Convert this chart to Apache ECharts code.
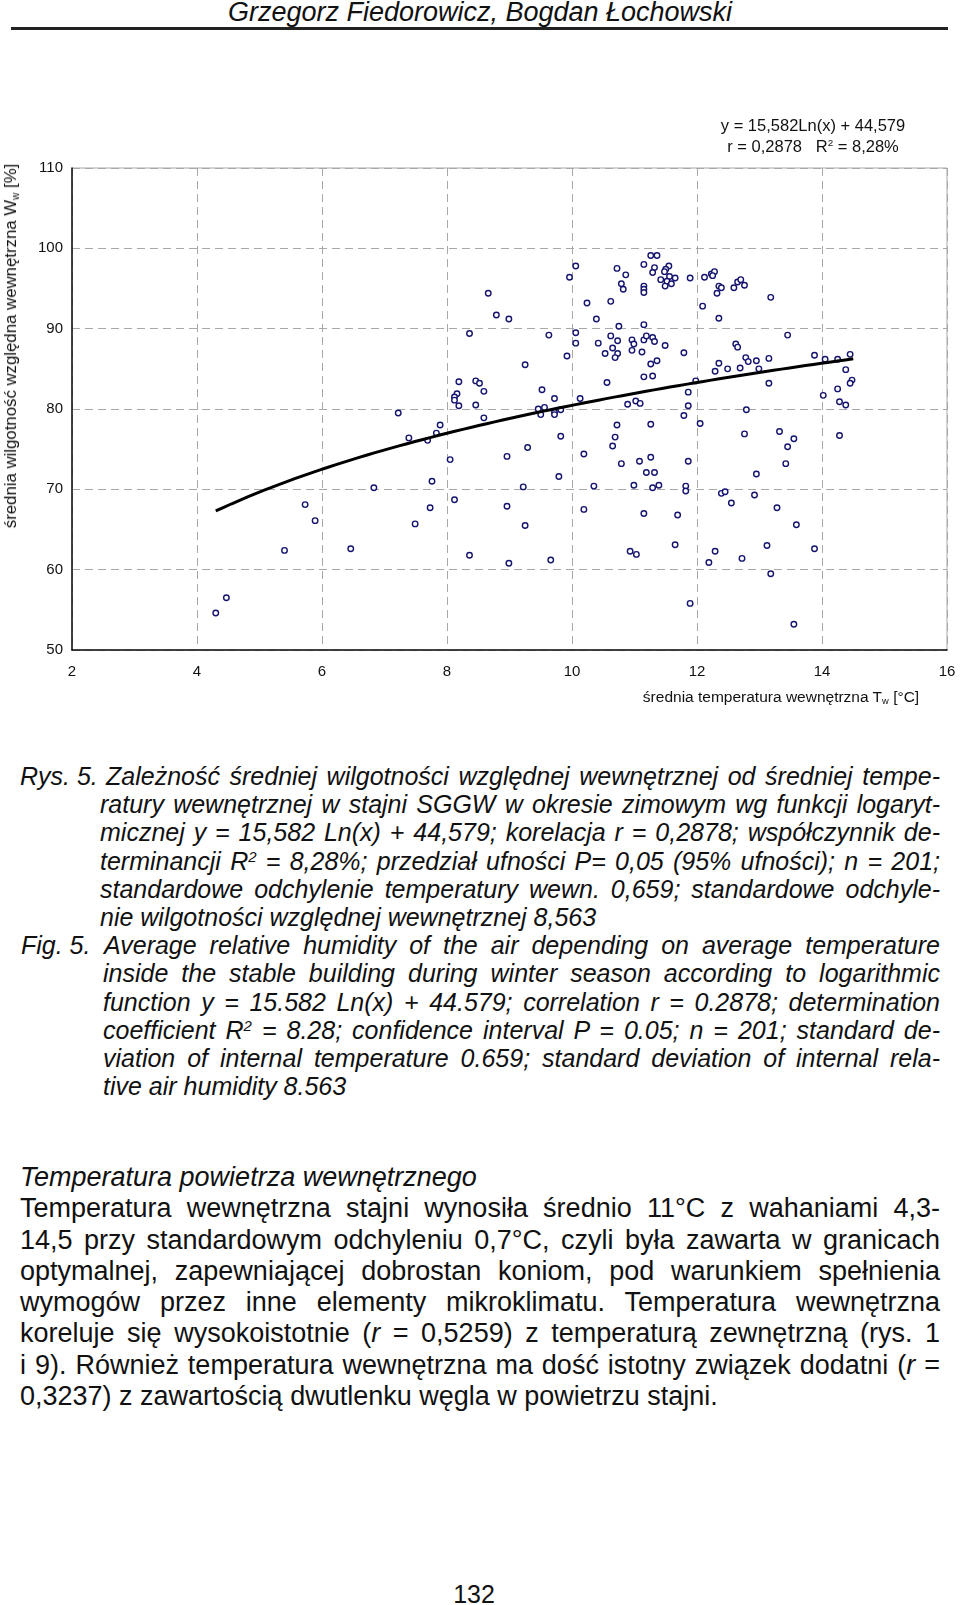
<!DOCTYPE html>
<html>
<head>
<meta charset="utf-8">
<script src="https://cdn.jsdelivr.net/npm/echarts@6/dist/echarts.min.js"></script>
<style>
  html,body{margin:0;padding:0;background:#fff;}
  body{width:960px;height:1605px;position:relative;overflow:hidden;font-family:"Liberation Sans",Arial,sans-serif;color:#111;}
  #chart{position:absolute;left:0;top:0;width:960px;height:720px;}
  .abs{position:absolute;white-space:nowrap;}
  .cap{position:absolute;left:0;width:960px;font-style:italic;font-size:25px;}
  .cap .ln{position:relative;height:28.2px;line-height:28.2px;white-space:nowrap;}
  .j{text-align:justify;text-align-last:justify;}
  .body{position:absolute;left:20px;width:920px;top:1162px;font-size:27px;}
  .body .ln{height:31.3px;line-height:31.3px;white-space:nowrap;}
  sub{font-size:60%;vertical-align:-0.25em;line-height:0;}
  sup{font-size:60%;vertical-align:0.55em;line-height:0;}
</style>
</head>
<body>
<div class="abs" style="left:480px;top:12px;transform:translate(-50%,-50%);font-size:27px;font-style:italic;">Grzegorz Fiedorowicz, Bogdan Łochowski</div>
<div class="abs" style="left:11px;top:27px;width:937px;height:2.5px;background:#222;"></div>

<div id="chart"></div>

<div class="abs" style="left:813px;top:125px;transform:translate(-50%,-50%);font-size:16.5px;">y = 15,582Ln(x) + 44,579</div>
<div class="abs" style="left:813px;top:146px;transform:translate(-50%,-50%);font-size:16.5px;">r = 0,2878&nbsp;&nbsp; R<sup>2</sup> = 8,28%</div>
<div class="abs" style="left:11px;top:346px;transform:translate(-50%,-50%) rotate(-90deg);font-size:16.8px;">średnia wilgotność względna wewnętrzna W<sub>w</sub> [%]</div>
<div class="abs" style="left:781px;top:697px;transform:translate(-50%,-50%);font-size:15.5px;">średnia temperatura wewnętrzna T<sub>w</sub> [°C]</div>

<div class="cap" style="top:762px;">
  <div class="ln"><span class="abs" style="left:20px;">Rys. 5.</span><div class="j" style="margin-left:106px;width:834px;">Zależność średniej wilgotności względnej wewnętrznej od średniej tempe-</div></div>
  <div class="ln"><div class="j" style="margin-left:100px;width:840px;">ratury wewnętrznej w stajni SGGW w okresie zimowym wg funkcji logaryt-</div></div>
  <div class="ln"><div class="j" style="margin-left:100px;width:840px;">micznej y = 15,582 Ln(x) + 44,579; korelacja r = 0,2878; współczynnik de-</div></div>
  <div class="ln"><div class="j" style="margin-left:100px;width:840px;">terminancji R<sup>2</sup> = 8,28%; przedział ufności P= 0,05 (95% ufności); n = 201;</div></div>
  <div class="ln"><div class="j" style="margin-left:100px;width:840px;">standardowe odchylenie temperatury wewn. 0,659; standardowe odchyle-</div></div>
  <div class="ln"><div style="margin-left:100px;width:840px;">nie wilgotności względnej wewnętrznej 8,563</div></div>
  <div class="ln"><span class="abs" style="left:21px;">Fig. 5.</span><div class="j" style="margin-left:104px;width:836px;">Average relative humidity of the air depending on average temperature</div></div>
  <div class="ln"><div class="j" style="margin-left:103px;width:837px;">inside the stable building during winter season according to logarithmic</div></div>
  <div class="ln"><div class="j" style="margin-left:103px;width:837px;">function y = 15.582 Ln(x) + 44.579; correlation r = 0.2878; determination</div></div>
  <div class="ln"><div class="j" style="margin-left:103px;width:837px;">coefficient R<sup>2</sup> = 8.28; confidence interval P = 0.05; n = 201; standard de-</div></div>
  <div class="ln"><div class="j" style="margin-left:103px;width:837px;">viation of internal temperature 0.659; standard deviation of internal rela-</div></div>
  <div class="ln"><div style="margin-left:103px;width:837px;">tive air humidity 8.563</div></div>
</div>

<div class="body">
  <div class="ln" style="font-style:italic;">Temperatura powietrza wewnętrznego</div>
  <div class="ln j">Temperatura wewnętrzna stajni wynosiła średnio 11°C z wahaniami 4,3-</div>
  <div class="ln j">14,5 przy standardowym odchyleniu 0,7°C, czyli była zawarta w granicach</div>
  <div class="ln j">optymalnej, zapewniającej dobrostan koniom, pod warunkiem spełnienia</div>
  <div class="ln j">wymogów przez inne elementy mikroklimatu. Temperatura wewnętrzna</div>
  <div class="ln j">koreluje się wysokoistotnie (<i>r</i> = 0,5259) z temperaturą zewnętrzną (rys. 1</div>
  <div class="ln j">i 9). Również temperatura wewnętrzna ma dość istotny związek dodatni (<i>r</i> =</div>
  <div class="ln">0,3237) z zawartością dwutlenku węgla w powietrzu stajni.</div>
</div>

<div class="abs" style="left:474px;top:1594px;transform:translate(-50%,-50%);font-size:25px;">132</div>

<script>
// Data
const temperature = [
  4.30,4.47,5.40,5.73,5.89,6.46,6.83,
  10.06,9.96,10.24,8.66,8.79,8.99,8.36,9.63,10.06,10.06,9.92,9.25,8.19,8.46,8.52,8.59,8.16,8.12,8.12,8.19,8.46,
  9.52,9.72,10.13,7.22,9.46,9.56,9.50,9.72,9.72,9.82,8.59,7.89,7.83,7.39,7.69,9.82,9.29,8.96,8.05,10.19,7.76,
  9.79,9.22,8.12,7.73,8.96,10.19,7.49,9.25,8.36,8.99,9.66,
  11.26,11.36,11.15,10.72,10.86,11.32,11.29,11.55,11.50,11.48,11.56,11.42,11.52,11.65,11.59,11.49,10.79,10.82,
  11.15,11.15,11.15,11.89,12.12,12.23,12.28,12.25,12.35,12.39,12.32,12.59,12.65,12.70,12.76,10.62,12.09,10.39,
  12.35,10.75,11.15,10.62,10.73,10.42,10.65,10.73,10.69,10.53,10.96,10.99,10.96,11.15,11.19,11.29,11.32,11.12,
  11.49,11.79,11.36,11.26,11.15,11.29,10.56,12.62,12.65,12.78,12.82,12.95,12.35,12.29,12.49,12.69,12.99,11.98,
  11.86,10.89,11.02,11.09,11.86,11.79,12.79,12.05,11.26,10.72,10.69,10.65,12.76,10.79,11.08,11.26,11.86,11.19,
  11.32,12.95,10.35,10.99,11.29,11.39,11.82,11.82,12.39,12.45,12.55,12.92,11.15,11.69,11.65,10.93,11.03,12.29,
  12.19,12.72,11.89,
  13.18,13.45,13.15,13.15,13.88,14.05,14.25,14.45,14.38,14.48,14.45,14.25,14.02,14.28,14.38,13.32,13.55,13.45,
  14.28,13.42,13.28,13.59,13.12,13.88,13.18,13.55
];
const humidity = [
  54.6,56.5,62.4,68.1,66.1,62.6,70.2,
  97.8,96.4,93.2,94.4,91.7,91.2,89.4,89.2,89.5,88.2,86.6,85.5,83.4,83.5,83.2,82.2,81.9,81.5,81.1,80.4,80.5,
  82.4,81.3,81.3,79.5,80.0,80.2,79.3,79.6,79.3,79.9,78.9,78.0,77.0,76.4,76.1,76.6,75.2,74.1,73.7,74.4,71.0,
  71.6,70.3,68.7,67.7,67.9,67.5,65.7,65.5,61.8,60.8,61.2,
  99.1,99.1,98.0,97.5,96.7,97.6,97.0,97.8,97.4,97.1,96.5,96.1,95.9,96.3,95.6,95.3,95.6,94.9,
  95.3,94.9,94.5,96.3,96.4,96.8,97.1,96.6,95.3,95.1,94.4,95.1,95.8,96.1,95.4,93.4,92.8,91.2,
  91.3,90.3,90.5,89.1,88.5,88.2,87.6,86.9,86.4,86.9,88.6,88.1,87.3,88.6,89.1,88.9,88.4,87.1,
  87.9,87.0,86.0,85.6,84.0,84.1,83.3,88.1,87.7,86.4,85.9,86.0,85.7,84.7,85.0,85.1,85.0,83.5,
  82.1,80.6,81.0,80.7,80.4,79.2,79.9,78.2,78.1,78.0,76.5,75.4,76.9,73.2,73.5,74.0,73.5,72.1,
  72.1,71.9,70.4,70.5,70.2,70.5,70.4,69.8,69.5,69.7,68.3,69.3,67.0,66.8,63.1,62.3,61.9,62.3,
  60.9,61.4,55.8,
  93.9,89.2,86.3,83.2,86.7,86.2,86.2,86.8,84.9,83.6,83.2,82.5,81.7,80.9,80.5,77.2,76.3,75.3,
  76.7,73.2,67.7,65.6,63.0,62.6,59.5,53.2
];
const xTicks = {min: 2, max: 16, step: 2};
const yTicks = {min: 50, max: 110, step: 10};
// Fitted logarithmic trend stated on the chart: y = 15.582 ln(x) + 44.579
const trendCoefA = 15.582;
const trendCoefB = 44.579;
const trendRange = [4.3, 14.5];

const points = temperature.map((t, i) => [t, humidity[i]]);
const trend = [];
for (let k = 0; k <= 80; k++) {
  const x = trendRange[0] + (trendRange[1] - trendRange[0]) * k / 80;
  trend.push([x, trendCoefA * Math.log(x) + trendCoefB]);
}

const FF = '"Liberation Sans", Arial, sans-serif';
const chart = echarts.init(document.getElementById('chart'));
chart.setOption({
  animation: false,
  grid: {left: 72, right: 13, top: 168, bottom: 70, show: true, borderColor: '#a8a8a8', borderWidth: 1, backgroundColor: 'transparent'},
  xAxis: {
    type: 'value', min: xTicks.min, max: xTicks.max, interval: xTicks.step,
    axisLine: {show: true, onZero: false, lineStyle: {color: '#111', width: 1.5}},
    axisTick: {show: false},
    axisLabel: {color: '#111', fontSize: 15, fontFamily: FF, margin: 14},
    splitLine: {show: true, lineStyle: {color: '#a8a8a8', width: 1, type: [8, 5]}}
  },
  yAxis: {
    type: 'value', min: yTicks.min, max: yTicks.max, interval: yTicks.step,
    axisLine: {show: true, onZero: false, lineStyle: {color: '#111', width: 1.5}},
    axisTick: {show: false},
    axisLabel: {color: '#111', fontSize: 15, fontFamily: FF, margin: 9},
    splitLine: {show: true, lineStyle: {color: '#a8a8a8', width: 1, type: [8, 5]}}
  },
  series: [
    {type: 'scatter', data: points, symbol: 'circle', symbolSize: 5.5, z: 3,
     itemStyle: {color: '#ffffff', borderColor: '#14146e', borderWidth: 1.4, opacity: 1}},
    {type: 'line', data: trend, showSymbol: false, silent: true, z: 4,
     lineStyle: {color: '#000', width: 3}}
  ]
});
</script>
</body>
</html>
